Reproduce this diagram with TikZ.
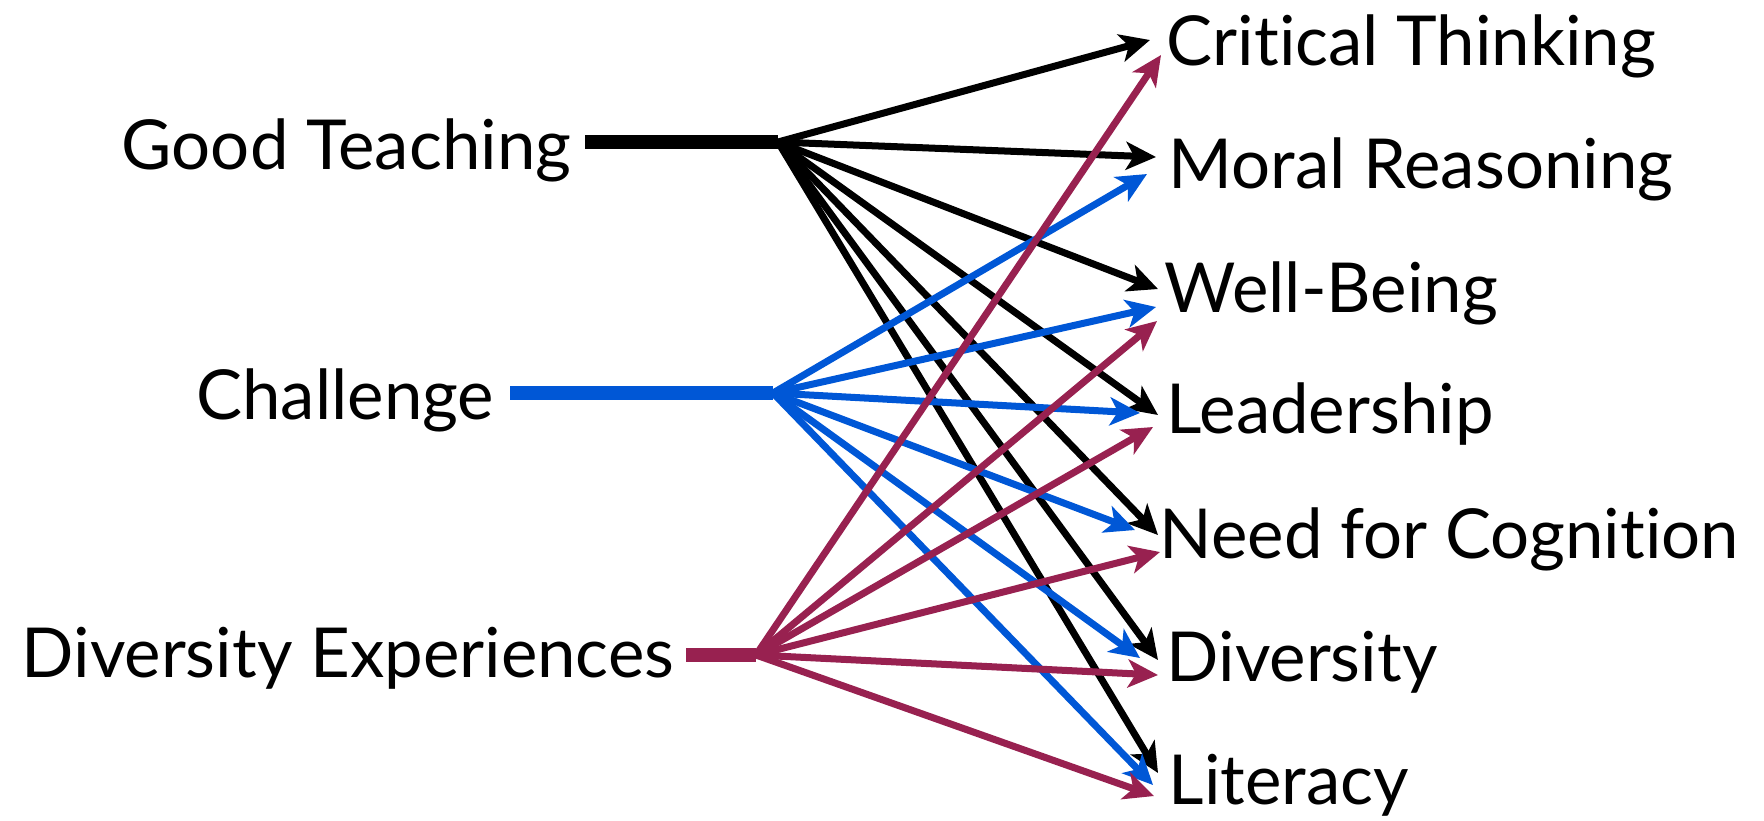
\documentclass[tikz,border=0pt]{standalone}
\usepackage{fontspec}
\setmainfont{Lato}[Ligatures=NoCommon]
\usetikzlibrary{arrows.meta}
\definecolor{cblue}{RGB}{0,87,214}
\definecolor{cred}{RGB}{152,33,80}
\tikzset{
  lbl/.style={inner sep=0pt, font=\fontsize{19.6}{24}\selectfont},
  bar/.style={line width=0.14cm},
  arr/.style={line width=0.07cm, -{Stealth[length=0.3cm, width=0.28cm, inset=0.08cm]}},
}
\begin{document}
\begin{tikzpicture}[x=0.01cm, y=-0.01cm]
\useasboundingbox (0,0) rectangle (1764,820);
% left labels
\node[lbl, anchor=base east] (gt) at (572,169) {Good Teaching};
\node[lbl, anchor=base east] (ch) at (495,419) {Challenge};
\node[lbl, anchor=base east] (de) at (675,677) {Diversity Experiences};
% right labels
\node[lbl, anchor=base west] (ct) at (1166,65) {Critical Thinking};
\node[lbl, anchor=base west] (mr) at (1168,188) {Moral Reasoning};
\node[lbl, anchor=base west] (wb) at (1164,312) {Well-Being};
\node[lbl, anchor=base west] (ld) at (1166,433) {Leadership};
\node[lbl, anchor=base west] (nc) at (1159,558) {Need for Cognition};
\node[lbl, anchor=base west] (dv) at (1166,681) {Diversity};
\node[lbl, anchor=base west] (lt) at (1168,804) {Literacy};
% hubs
\coordinate (gh) at (778,142);
\coordinate (chh) at (773,393);
\coordinate (dh) at (756,655);
% bars
\draw[bar] ([xshift=0.13cm]gt.east |- gh) -- (gh);
\draw[bar, cblue] ([xshift=0.15cm]ch.east |- chh) -- (chh);
\draw[bar, cred] ([xshift=0.11cm]de.east |- dh) -- (dh);
% tips black
\coordinate (k1) at (1150,40);
\coordinate (k2) at (1156,157);
\coordinate (k3) at (1158,289);
\coordinate (k4) at (1158,415);
\coordinate (k5) at (1158,535);
\coordinate (k6) at (1158,660);
\coordinate (k7) at (1158,773);
% tips blue
\coordinate (b2) at (1147,174);
\coordinate (b3) at (1156,307);
\coordinate (b4) at (1140,413);
\coordinate (b5) at (1135,530);
\coordinate (b6) at (1140,658);
\coordinate (b7) at (1153,785);
% tips red
\coordinate (r1) at (1161,55);
\coordinate (r3) at (1157,321);
\coordinate (r4) at (1153,427);
\coordinate (r5) at (1160,552);
\coordinate (r6) at (1158,675);
\coordinate (r7) at (1154,796);
% arrows
\foreach \t in {k1,k2,k3,k4,k5,k6,k7} \draw[arr] (gh) -- (\t);
\foreach \t in {b2,b3,b4,b5,b6,b7} \draw[arr, cblue] (chh) -- (\t);
\foreach \t in {r1,r3,r4,r5,r6,r7} \draw[arr, cred] (dh) -- (\t);
\end{tikzpicture}
\end{document}
